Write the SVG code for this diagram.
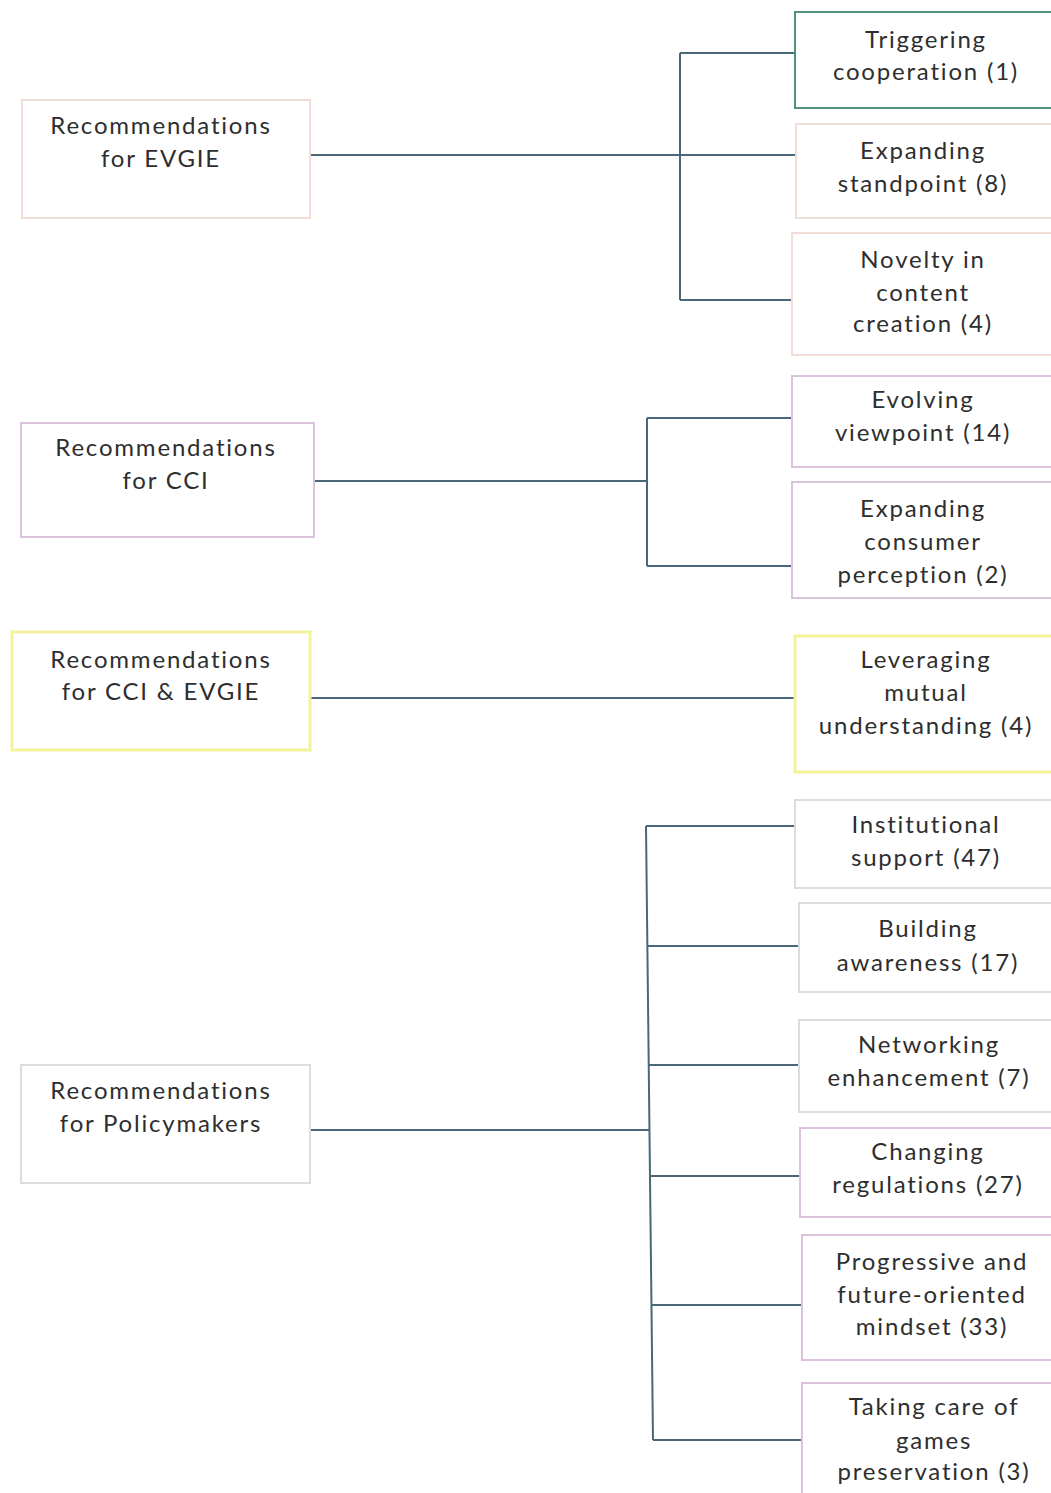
<svg xmlns="http://www.w3.org/2000/svg" width="1051" height="1493" viewBox="0 0 1051 1493">
  <style>
    .box { fill: #ffffff; stroke-width: 2; }
    .peach { stroke: #f0ddd5; }
    .pink { stroke: #dcc2dc; }
    .yellow { stroke: #f4f29a; stroke-width: 3; }
    .grey { stroke: #dcdcdc; }
    .green { stroke: #4f9478; }
    .lbl { font-family: Lato, "Open Sans", sans-serif; font-size: 24px; letter-spacing: 1.8px; fill: #2e2e2e; text-anchor: middle; }
    .conn { stroke: #48687a; stroke-width: 2; fill: none; }
  </style>
  <rect width="1051" height="1493" fill="#ffffff"/>

  <!-- connectors -->
  <g id="connectors">
    <!-- EVGIE branch -->
    <path class="conn" d="M310 155 H795 M680 53 V300 M680 53 H795 M680 300 H792"/>
    <!-- CCI branch -->
    <path class="conn" d="M314 481 H647 M647 418 V566 M647 418 H792 M647 566 H792"/>
    <!-- CCI & EVGIE -->
    <path class="conn" d="M310 698 H795"/>
    <!-- Policymakers branch -->
    <path class="conn" d="M310 1130 H650 M646 826 L653 1440 M646 826 H795 M648 946 H800 M649 1065 H800 M651 1176 H800 M652 1305 H802 M653 1440 H802"/>
  </g>

  <!-- left column -->
  <g id="rec-evgie">
    <rect class="box peach" x="22" y="100" width="288" height="118"/>
    <text class="lbl" x="161" y="134">Recommendations</text>
    <text class="lbl" x="161" y="167">for EVGIE</text>
  </g>
  <g id="rec-cci">
    <rect class="box pink" x="21" y="423" width="293" height="114"/>
    <text class="lbl" x="166" y="456">Recommendations</text>
    <text class="lbl" x="166" y="489">for CCI</text>
  </g>
  <g id="rec-cci-evgie">
    <rect class="box yellow" x="12" y="632" width="298" height="118"/>
    <text class="lbl" x="161" y="668">Recommendations</text>
    <text class="lbl" x="161" y="700">for CCI &amp; EVGIE</text>
  </g>
  <g id="rec-policymakers">
    <rect class="box grey" x="21" y="1065" width="289" height="118"/>
    <text class="lbl" x="161" y="1099">Recommendations</text>
    <text class="lbl" x="161" y="1132">for Policymakers</text>
  </g>

  <!-- right column -->
  <g id="triggering-cooperation">
    <rect class="box green" x="795" y="12" width="262" height="96"/>
    <text class="lbl" x="926" y="48">Triggering</text>
    <text class="lbl" x="926" y="80">cooperation (1)</text>
  </g>
  <g id="expanding-standpoint">
    <rect class="box peach" x="796" y="124" width="261" height="94"/>
    <text class="lbl" x="923" y="159">Expanding</text>
    <text class="lbl" x="923" y="192">standpoint (8)</text>
  </g>
  <g id="novelty">
    <rect class="box peach" x="792" y="233" width="265" height="122"/>
    <text class="lbl" x="923" y="268">Novelty in</text>
    <text class="lbl" x="923" y="301">content</text>
    <text class="lbl" x="923" y="332">creation (4)</text>
  </g>
  <g id="evolving-viewpoint">
    <rect class="box pink" x="792" y="376" width="265" height="91"/>
    <text class="lbl" x="923" y="408">Evolving</text>
    <text class="lbl" x="923" y="441">viewpoint (14)</text>
  </g>
  <g id="expanding-consumer-perception">
    <rect class="box pink" x="792" y="482" width="265" height="116"/>
    <text class="lbl" x="923" y="517">Expanding</text>
    <text class="lbl" x="923" y="550">consumer</text>
    <text class="lbl" x="923" y="583">perception (2)</text>
  </g>
  <g id="leveraging-mutual-understanding">
    <rect class="box yellow" x="795" y="636" width="262" height="136"/>
    <text class="lbl" x="926" y="668">Leveraging</text>
    <text class="lbl" x="926" y="701">mutual</text>
    <text class="lbl" x="926" y="734">understanding (4)</text>
  </g>
  <g id="institutional-support">
    <rect class="box grey" x="795" y="800" width="262" height="88"/>
    <text class="lbl" x="926" y="833">Institutional</text>
    <text class="lbl" x="926" y="866">support (47)</text>
  </g>
  <g id="building-awareness">
    <rect class="box grey" x="799" y="903" width="258" height="89"/>
    <text class="lbl" x="928" y="937">Building</text>
    <text class="lbl" x="928" y="971">awareness (17)</text>
  </g>
  <g id="networking-enhancement">
    <rect class="box grey" x="799" y="1020" width="258" height="92"/>
    <text class="lbl" x="929" y="1053">Networking</text>
    <text class="lbl" x="929" y="1086">enhancement (7)</text>
  </g>
  <g id="changing-regulations">
    <rect class="box pink" x="800" y="1128" width="257" height="89"/>
    <text class="lbl" x="928" y="1160">Changing</text>
    <text class="lbl" x="928" y="1193">regulations (27)</text>
  </g>
  <g id="progressive-mindset">
    <rect class="box pink" x="802" y="1235" width="255" height="125"/>
    <text class="lbl" x="932" y="1270">Progressive and</text>
    <text class="lbl" x="932" y="1303">future-oriented</text>
    <text class="lbl" x="932" y="1335">mindset (33)</text>
  </g>
  <g id="games-preservation">
    <rect class="box pink" x="802" y="1383" width="255" height="120"/>
    <text class="lbl" x="934" y="1415">Taking care of</text>
    <text class="lbl" x="934" y="1449">games</text>
    <text class="lbl" x="934" y="1480">preservation (3)</text>
  </g>
</svg>
